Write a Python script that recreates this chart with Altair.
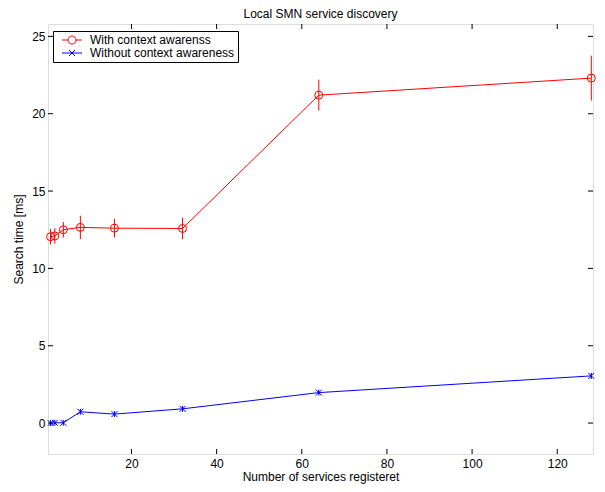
import altair as alt
import pandas as pd

# ---- data ----
x_vals = [1, 2, 4, 8, 16, 32, 64, 128]
with_ctx = [12.05, 12.1, 12.5, 12.65, 12.6, 12.58, 21.2, 22.3]
with_err = [0.5, 0.5, 0.5, 0.75, 0.6, 0.7, 1.0, 1.45]
without_ctx = [0.0, 0.02, 0.02, 0.73, 0.58, 0.92, 1.97, 3.05]
without_err = [0.05, 0.05, 0.05, 0.1, 0.1, 0.1, 0.1, 0.15]

series_names = ["With context awarenss", "Without context awareness"]
series_colors = ["#ff0000", "#0000ff"]

x_ticks = [20, 40, 60, 80, 100, 120]
y_ticks = [0, 5, 10, 15, 20, 25]

title_text = "Local SMN service discovery"
x_title = "Number of services registeret"
y_title = "Search time [ms]"

W, H = 545, 430
x_domain = [0.4, 128.4]
y_domain = [-2, 25.8]

FONT = "Liberation Sans"

rows = []
for name, vals, errs in [(series_names[0], with_ctx, with_err),
                         (series_names[1], without_ctx, without_err)]:
    for xv, v, e in zip(x_vals, vals, errs):
        rows.append({"series": name, "x": xv, "y": v, "lo": v - e, "hi": v + e})
df = pd.DataFrame(rows)

xs = alt.Scale(domain=x_domain, nice=False, zero=False)
ys = alt.Scale(domain=y_domain, nice=False, zero=False)

X = alt.X("x:Q", scale=xs,
          axis=alt.Axis(values=x_ticks, ticks=False, domain=False, grid=False,
                        labelPadding=4, title=x_title, titlePadding=2,
                        titleFontWeight="normal", titleFont=FONT, labelFont=FONT,
                        titleFontSize=12, labelFontSize=12))
Y = alt.Y("y:Q", scale=ys,
          axis=alt.Axis(values=y_ticks, ticks=False, domain=False, grid=False,
                        labelPadding=3, title=y_title, titlePadding=6,
                        titleFontWeight="normal", titleFont=FONT, labelFont=FONT,
                        titleFontSize=12, labelFontSize=12))

marker_paths = {
    series_names[0]: "circle",
    series_names[1]: "M-1,-1L1,1M-1,1L1,-1M0,-1L0,1",
}
marker_sizes = {series_names[0]: 64, series_names[1]: 36}

base = alt.Chart(df)
layers = []
for name, col in zip(series_names, series_colors):
    sub = base.transform_filter(alt.datum.series == name)
    layers.append(sub.mark_line(color=col, strokeWidth=1).encode(x=X, y=Y))
    layers.append(sub.mark_rule(color=col, strokeWidth=1).encode(
        x=alt.X("x:Q", scale=xs), y=alt.Y("lo:Q", scale=ys), y2="hi:Q"))
    layers.append(sub.mark_point(color=col, filled=False, strokeWidth=1,
                                 shape=marker_paths[name], size=marker_sizes[name],
                                 opacity=1).encode(x=alt.X("x:Q", scale=xs),
                                                   y=alt.Y("y:Q", scale=ys)))

# legend layer (no visible data)
legend_shapes = [
    "M-2,0L-0.8,0M0.8,0L2,0M-0.8,0A0.8,0.8,0,1,1,0.8,0A0.8,0.8,0,1,1,-0.8,0",
    "M-2,0L2,0M-0.6,-0.6L0.6,0.6M-0.6,0.6L0.6,-0.6",
]
legend_kw = dict(title=None, orient="none", legendX=5, legendY=7,
                 direction="vertical", strokeColor="black", fillColor="white",
                 padding=3, symbolOffset=10, labelOffset=12, rowPadding=1,
                 symbolSize=100, symbolStrokeWidth=1, symbolOpacity=1,
                 labelFontSize=12, labelFont=FONT, labelColor="black")
legend_layer = base.transform_filter(alt.datum.x < 0).mark_point(
    filled=False, opacity=1).encode(
    x=alt.X("x:Q", scale=xs),
    y=alt.Y("y:Q", scale=ys),
    color=alt.Color("series:N",
                    scale=alt.Scale(domain=series_names, range=series_colors),
                    legend=alt.Legend(**legend_kw)),
    shape=alt.Shape("series:N",
                    scale=alt.Scale(domain=series_names, range=legend_shapes),
                    legend=alt.Legend(**legend_kw)),
)
layers.append(legend_layer)

# inward ticks on all four sides
xt = alt.Chart(pd.DataFrame({"t": x_ticks}))
yt = alt.Chart(pd.DataFrame({"t": y_ticks}))
tick_len = 5
layers.append(xt.mark_rule(color="black").encode(
    x=alt.X("t:Q", scale=xs), y=alt.value(H), y2=alt.value(H - tick_len)))
layers.append(xt.mark_rule(color="black").encode(
    x=alt.X("t:Q", scale=xs), y=alt.value(0), y2=alt.value(tick_len)))
layers.append(yt.mark_rule(color="black").encode(
    y=alt.Y("t:Q", scale=ys), x=alt.value(0), x2=alt.value(tick_len)))
layers.append(yt.mark_rule(color="black").encode(
    y=alt.Y("t:Q", scale=ys), x=alt.value(W), x2=alt.value(W - tick_len)))

chart = alt.layer(*layers).properties(
    width=W, height=H,
    title=alt.TitleParams(title_text, fontSize=12, fontWeight="normal",
                          font=FONT, color="black", offset=3),
    autosize=alt.AutoSizeParams(type="none"),
    padding={"left": 40, "top": 16, "right": 4, "bottom": 30},
).configure_view(
    stroke="black", strokeWidth=1
).configure_axis(
    labelFont=FONT, titleFont=FONT,
    labelFontSize=12, titleFontSize=12, titleFontWeight="normal",
    labelColor="black", titleColor="black"
).configure(background="white")

chart.save("out.html", embed_options={"renderer": "svg", "actions": False})
